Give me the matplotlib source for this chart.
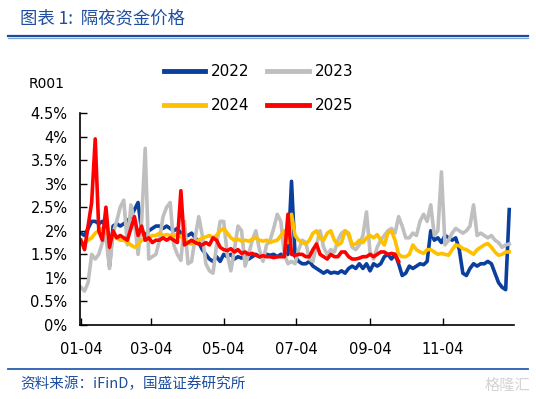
import matplotlib
matplotlib.use("Agg")
import matplotlib.pyplot as plt
import matplotlib.dates as mdates
import numpy as np
import pandas as pd
from matplotlib.lines import Line2D

plt.rcParams["font.family"] = ["DejaVu Sans", "Noto Sans CJK SC"]

# overnight repo rate R001 (%), sampled every 3 days from 01-04
START = pd.Timestamp("2023-01-04")
STEP_DAYS = 3

r2022 = [1.95, 1.9, 2.05, 2.2, 2.2, 2.15, 2.2, 2.1, 1.25, 2.1, 2.15, 2.1, 2.15, 2.2, 2.3, 2.45,
         2.6, 2.0, 1.9, 2.0, 2.05, 2.1, 2.1, 2.05, 2.1, 2.05, 2.0, 2.05, 1.95, 1.9, 1.9, 1.95,
         1.85, 1.75, 1.6, 1.5, 1.4, 1.35, 1.45, 1.35, 1.5, 1.45, 1.5, 1.4, 1.45, 1.42, 1.5, 1.4,
         1.45, 1.5, 1.45, 1.42, 1.5, 1.48, 1.5, 1.45, 1.5, 1.48, 1.5, 3.05, 1.45, 1.35, 1.3, 1.3,
         1.35, 1.25, 1.2, 1.15, 1.1, 1.15, 1.1, 1.12, 1.1, 1.15, 1.1, 1.2, 1.25, 1.2, 1.3, 1.2,
         1.3, 1.15, 1.3, 1.25, 1.3, 1.45, 1.5, 1.4, 1.5, 1.3, 1.05, 1.1, 1.25, 1.2, 1.25, 1.3,
         1.28, 1.35, 2.0, 1.8, 1.85, 1.75, 1.9, 1.85, 1.8, 1.85, 1.6, 1.1, 1.05, 1.2, 1.3, 1.25,
         1.3, 1.3, 1.35, 1.3, 1.1, 0.9, 0.8, 0.75, 2.45]
r2023 = [0.8, 0.72, 0.9, 1.5, 1.4, 1.5, 1.75, 1.9, 1.2, 1.95, 2.2, 2.5, 2.65, 1.7, 2.55, 2.2,
         1.5, 2.2, 3.75, 1.4, 1.45, 1.5, 1.8, 2.3, 2.5, 2.6, 1.7, 1.5, 1.37, 2.2, 1.3, 1.35,
         1.85, 2.3, 1.9, 1.3, 1.15, 1.1, 1.7, 2.2, 2.2, 1.5, 1.15, 1.6, 2.1, 2.0, 1.25, 1.5,
         1.8, 2.0, 1.6, 1.35, 1.7, 1.8, 2.05, 2.35, 2.2, 1.5, 1.3, 1.35, 1.3, 1.6, 1.8, 1.75,
         1.4, 1.35, 1.7, 2.0, 1.65, 1.5, 1.6, 1.55, 1.8, 1.95, 2.0, 1.9, 1.65, 1.6, 1.7, 1.9,
         2.4, 1.55, 1.4, 1.65, 1.8, 1.9, 2.0, 2.05, 1.95, 2.3, 2.1, 1.85, 1.85, 1.95, 1.9, 2.2,
         2.35, 2.2, 2.55, 1.9, 2.0, 3.25, 1.7, 1.8, 1.95, 2.05, 2.0, 1.95, 2.0, 2.1, 2.55, 1.9,
         1.95, 1.9, 1.85, 1.9, 1.8, 1.75, 1.65, 1.7, 1.72]
r2024 = [1.75, 1.75, 1.8, 1.85, 1.95, 2.0, 2.05, 2.0, 1.85, 1.9, 1.85, 1.8, 1.8, 1.75, 1.7, 1.65,
         1.7, 1.8, 1.8, 1.85, 1.9, 1.9, 1.95, 1.9, 1.92, 1.9, 1.9, 1.92, 1.88, 1.8, 1.75, 1.72,
         1.75, 1.8, 1.85, 1.87, 1.9, 1.85, 1.9, 2.0, 2.05, 1.95, 1.85, 1.8, 1.82, 1.78, 1.8, 1.78,
         1.82, 1.85, 1.8, 1.78, 1.8, 1.75, 1.78, 1.8, 1.9, 2.0, 1.75, 2.35, 1.9, 1.8, 1.75, 1.72,
         1.8, 1.95, 2.0, 1.85, 1.8, 1.95, 2.0, 1.8, 1.7, 1.75, 2.0, 1.95, 1.7, 1.72, 1.8, 1.75,
         1.85, 1.9, 1.85, 1.92, 1.8, 1.7, 1.95, 2.0, 1.8, 1.5, 1.45, 1.45, 1.5, 1.7, 1.6, 1.55,
         1.52, 1.6, 1.6, 1.55, 1.5, 1.52, 1.5, 1.48, 1.6, 1.7, 1.68, 1.62, 1.6, 1.55, 1.5, 1.6,
         1.65, 1.7, 1.73, 1.65, 1.55, 1.48, 1.5, 1.55, 1.55]
r2025 = [1.8, 1.6, 2.1, 2.6, 3.95, 2.0, 1.8, 2.5, 1.65, 2.0, 1.85, 1.9, 1.85, 1.8, 2.05, 2.3,
         1.9, 2.1, 1.8, 1.85, 1.75, 1.8, 1.8, 1.85, 1.8, 1.85, 1.8, 1.75, 2.85, 1.7, 1.75, 1.8,
         1.75, 1.72, 1.7, 1.75, 1.7, 1.85, 1.8, 1.65, 1.6, 1.58, 1.62, 1.55, 1.6, 1.52, 1.55, 1.5,
         1.52, 1.48, 1.45, 1.47, 1.45, 1.45, 1.43, 1.45, 1.45, 1.45, 2.35, 1.5, 1.48, 1.5, 1.5,
         1.45, 1.45, 1.6, 1.72, 1.5, 1.45, 1.4, 1.5, 1.45, 1.45, 1.55, 1.55, 1.45, 1.4, 1.4, 1.42,
         1.45, 1.45, 1.5, 1.45, 1.5, 1.55, 1.55, 1.5, 1.52, 1.5, 1.35]

SERIES = {"2022": r2022, "2023": r2023, "2024": r2024, "2025": r2025}
COLORS = {"2022": "#0A3F9E", "2023": "#BFBFBF", "2024": "#FFC000", "2025": "#FF0000"}
LEGEND_ORDER = ["2022", "2024", "2023", "2025"]  # column-wise fill -> rows 2022/2023, 2024/2025
TICK_DATES = ["2023-01-04", "2023-03-04", "2023-05-04", "2023-07-04", "2023-09-04", "2023-11-04"]
Y_TICKS = [0, 0.5, 1, 1.5, 2, 2.5, 3, 3.5, 4, 4.5]

BLUE_TXT = "#1F4E9F"
W, H = 536, 399
fig = plt.figure(figsize=(W / 100, H / 100), dpi=100)
ax = fig.add_axes([80 / W, 1 - 325 / H, (514 - 80) / W, (325 - 113) / H])

for name, vals in SERIES.items():
    dates = START + pd.to_timedelta(np.arange(len(vals)) * STEP_DAYS, unit="D")
    ax.plot(dates, vals, color=COLORS[name], lw=2.6, solid_joinstyle="round", label=name)

ax.set_ylim(0, 4.5)
ax.set_xlim(START - pd.Timedelta(days=0.8), START + pd.Timedelta(days=364))
ax.set_yticks(Y_TICKS)
ax.set_yticklabels([f"{v:g}%" for v in Y_TICKS])
ax.set_xticks(pd.to_datetime(TICK_DATES))
ax.xaxis.set_major_formatter(mdates.DateFormatter("%m-%d"))
ax.tick_params(direction="in", length=5, width=1, labelsize=10.5, color="black")
ax.tick_params(axis="x", pad=12)
ax.tick_params(axis="y", pad=9)
for s in ["top", "right"]:
    ax.spines[s].set_visible(False)
for s in ["left", "bottom"]:
    ax.spines[s].set_linewidth(1.2)

fig.text(29 / W, 1 - 84 / H, "R001", fontsize=10, ha="left", va="center")

handles = [Line2D([], [], color=COLORS[n], lw=3.5) for n in LEGEND_ORDER]
fig.legend(handles, LEGEND_ORDER, ncol=2, loc="upper left",
           bbox_to_anchor=(164 / W, 1 - 64 / H), frameon=False, fontsize=11,
           handlelength=2.7, handletextpad=0.4, columnspacing=1.15, labelspacing=1.25,
           borderpad=0, borderaxespad=0)

# header / footer
fig.text(20 / W, 1 - 18 / H, "图表 1:  隔夜资金价格", family=["Noto Sans CJK SC"],
         fontsize=12.5, color=BLUE_TXT, style="italic", ha="left", va="center")
fig.add_artist(Line2D([8 / W, 528 / W], [1 - 35.5 / H] * 2, color="#1A4C9C", lw=1.6))
fig.add_artist(Line2D([8 / W, 528 / W], [1 - 37.8 / H] * 2, color="#7FA3D6", lw=0.9))
fig.add_artist(Line2D([8 / W, 528 / W], [1 - 369 / H] * 2, color="#2A5CB0", lw=1.3))
fig.text(20 / W, 1 - 384 / H, "资料来源：iFinD，国盛证券研究所", family=["Noto Sans CJK SC"],
         fontsize=10.5, color=BLUE_TXT, style="italic", ha="left", va="center")
fig.text(530 / W, 1 - 385 / H, "格隆汇", family=["Noto Sans CJK SC"],
         fontsize=11, color="#D3D3D3", ha="right", va="center")

fig.savefig("out.png", dpi=100)
